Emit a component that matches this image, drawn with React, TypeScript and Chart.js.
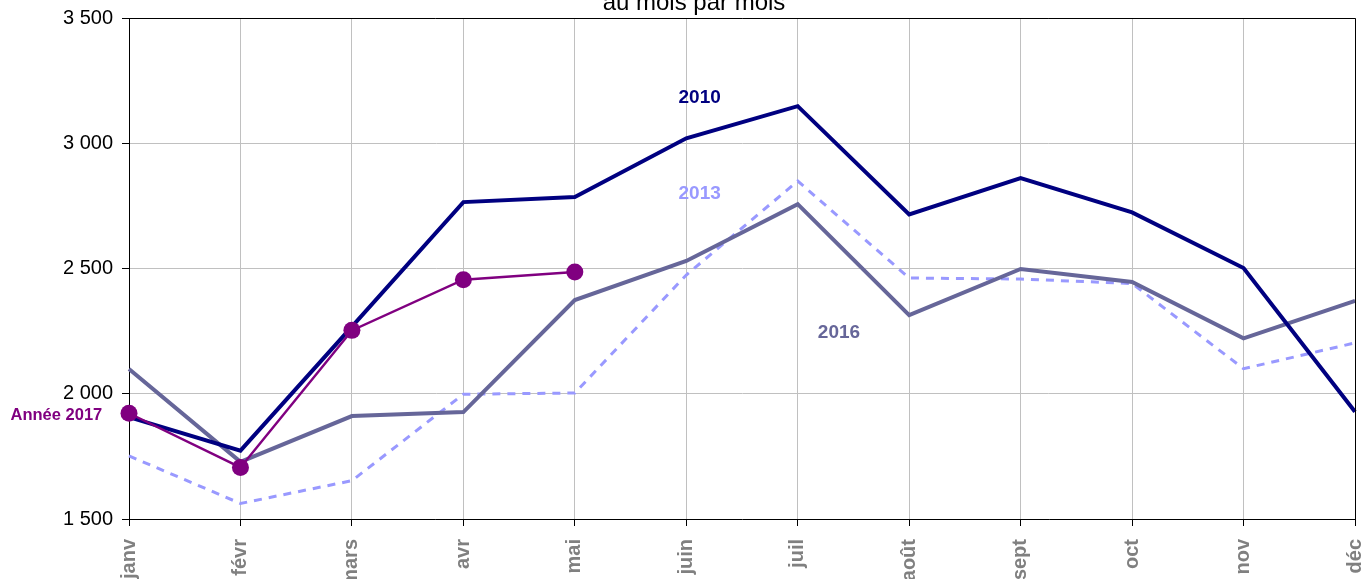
import React, { useEffect, useRef } from "react";
import { Chart, registerables } from "chart.js";

Chart.register(...registerables);

const months = ["janv", "févr", "mars", "avr", "mai", "juin", "juil", "août", "sept", "oct", "nov", "déc"];
const serie2010 = [1907, 1773, 2268, 2765, 2785, 3020, 3148, 2716, 2861, 2724, 2502, 1928];
const serie2013 = [1752, 1562, 1653, 1998, 2003, 2474, 2849, 2462, 2458, 2440, 2100, 2203];
const serie2016 = [2099, 1728, 1911, 1927, 2374, 2530, 2757, 2314, 2498, 2446, 2221, 2371];
const serie2017 = [1922, 1706, 2253, 2455, 2486];
const yTicks = [1500, 2000, 2500, 3000, 3500];
const titleText = "au mois par mois";

const FONT = "'Liberation Sans', Arial, sans-serif";

const fmt = (v: number) => {
  const s = Math.round(v).toString();
  return s.replace(/\B(?=(\d{3})+(?!\d))/g, " ");
};

const overlayPlugin = {
  id: "overlay",
  afterDatasetsDraw(chart: any) {
    const { ctx, chartArea, scales } = chart;
    const x = scales.x;
    const y = scales.y;
    ctx.save();
    ctx.strokeStyle = "#000";
    ctx.lineWidth = 1;
    ctx.beginPath();
    ctx.moveTo(chartArea.left, chartArea.top + 0.5);
    ctx.lineTo(chartArea.right + 0.5, chartArea.top + 0.5);
    ctx.lineTo(chartArea.right + 0.5, chartArea.bottom);
    ctx.stroke();

    const labels = [
      { text: "2010", idx: 5.12, val: 3180, color: "#000080", size: 19, align: "center" },
      { text: "2013", idx: 5.12, val: 2800, color: "#9999FF", size: 19, align: "center" },
      { text: "2016", idx: 6.37, val: 2243, color: "#666699", size: 19, align: "center" },
      { text: "Année 2017", idx: -0.24, val: 1912, color: "#800080", size: 16.5, align: "right" },
    ];
    labels.forEach((l) => {
      const px = x.getPixelForValue(0) + l.idx * (x.getPixelForValue(1) - x.getPixelForValue(0));
      const py = y.getPixelForValue(l.val);
      ctx.font = `bold ${l.size}px ${FONT}`;
      ctx.fillStyle = l.color;
      ctx.textAlign = l.align;
      ctx.textBaseline = "middle";
      ctx.fillText(l.text, px, py);
    });

    ctx.font = `24px ${FONT}`;
    ctx.fillStyle = "#000";
    ctx.textAlign = "center";
    ctx.textBaseline = "alphabetic";
    ctx.fillText(titleText, 694, 10);
    ctx.restore();
  },
};

export default function App() {
  const ref = useRef<HTMLCanvasElement>(null);
  useEffect(() => {
    document.body.style.margin = "0";
    const chart = new Chart(ref.current!, {
      type: "line",
      data: {
        labels: months,
        datasets: [
          {
            label: "2017",
            data: serie2017,
            borderColor: "#800080",
            backgroundColor: "#800080",
            borderWidth: 2.4,
            pointRadius: 8.5,
            pointBackgroundColor: "#800080",
            pointBorderWidth: 0,
            tension: 0,
            clip: false as any,
            order: 0,
          },
          {
            label: "2010",
            data: serie2010,
            borderColor: "#000080",
            borderWidth: 4,
            pointRadius: 0,
            tension: 0,
            order: 1,
          },
          {
            label: "2016",
            data: serie2016,
            borderColor: "#666699",
            borderWidth: 4,
            pointRadius: 0,
            tension: 0,
            order: 2,
          },
          {
            label: "2013",
            data: serie2013,
            borderColor: "#9999FF",
            borderWidth: 3,
            borderDash: [8, 7],
            pointRadius: 0,
            tension: 0,
            order: 3,
          },
        ],
      },
      options: {
        animation: false,
        responsive: false,
        maintainAspectRatio: false,
        layout: { padding: { left: 0, right: 9, top: 18, bottom: 0 } },
        plugins: { legend: { display: false }, tooltip: { enabled: false }, title: { display: false } },
        scales: {
          x: {
            offset: false,
            grid: { color: "#c0c0c0", tickColor: "#000", tickLength: 7, lineWidth: 1 },
            border: { color: "#000", width: 1 },
            ticks: {
              maxRotation: 90,
              minRotation: 90,
              autoSkip: false,
              padding: 13,
              color: "#808080",
              font: { family: FONT, size: 20, weight: "bold" },
            },
            afterFit: (s: any) => {
              s.height = 60;
              s.paddingLeft = 0;
              s.paddingRight = 0;
            },
          },
          y: {
            min: 1500,
            max: 3500,
            afterBuildTicks: (s: any) => {
              s.ticks = yTicks.map((v) => ({ value: v }));
            },
            grid: { color: "#c0c0c0", tickColor: "#000", tickLength: 7, lineWidth: 1 },
            border: { color: "#000", width: 1 },
            ticks: {
              padding: 9,
              color: "#000",
              font: { family: FONT, size: 20 },
              callback: (v: any) => fmt(Number(v)),
            },
            afterFit: (s: any) => {
              s.width = 129;
              s.paddingTop = 0;
              s.paddingBottom = 0;
            },
          },
        },
      },
      plugins: [overlayPlugin],
    });
    return () => chart.destroy();
  }, []);
  return (
    <div style={{ position: "fixed", left: 0, top: 0, width: 1364, height: 579 }}>
      <canvas ref={ref} width={1364} height={579} style={{ width: 1364, height: 579 }} />
    </div>
  );
}
